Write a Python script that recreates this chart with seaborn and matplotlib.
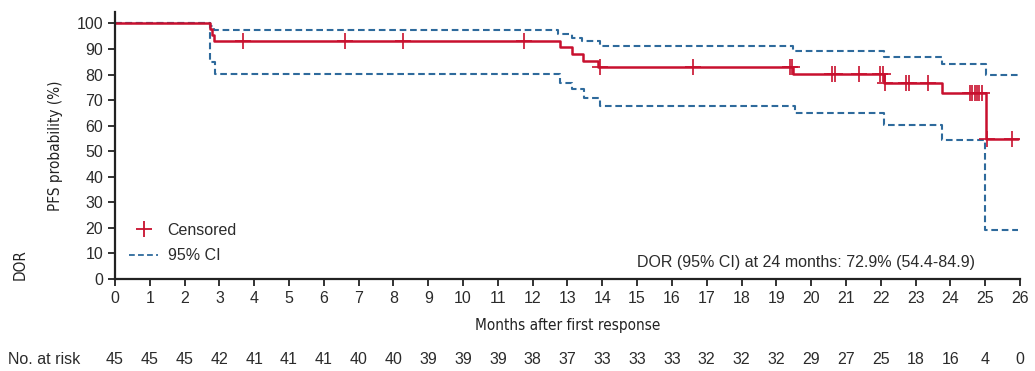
"""Kaplan-Meier style DOR curve with 95% CI and number-at-risk row."""

import numpy as np
import matplotlib
matplotlib.use("Agg")
import matplotlib.pyplot as plt
import matplotlib.font_manager as fm
from matplotlib.lines import Line2D
import seaborn as sns

# KM estimate (steps-post)
km_t = [0, 2.73, 2.78, 2.85, 12.79, 13.12, 13.44, 13.88, 19.49, 22.10, 23.75, 25.03, 25.95]
km_s = [100, 97.8, 95.6, 93.3, 90.6, 88.1, 85.5, 83.0, 80.1, 76.9, 72.7, 54.6, 54.6]

# 95% CI bounds
up_t = [0, 2.73, 2.85, 12.73, 13.12, 13.41, 13.92, 19.49, 22.08, 23.75, 25.03, 25.95]
up_s = [100, 99.0, 97.3, 95.9, 94.5, 93.1, 91.1, 89.2, 87.0, 84.1, 79.8, 79.8]
lo_t = [0, 2.73, 2.87, 12.79, 13.12, 13.48, 13.92, 19.54, 22.08, 23.75, 25.0, 25.95]
lo_s = [100, 84.9, 80.4, 76.8, 74.2, 71.0, 67.7, 65.0, 60.4, 54.3, 19.1, 19.1]

# censoring times
censor_t = [3.68, 6.61, 8.28, 11.75, 13.92, 16.6, 19.38, 19.45, 20.6, 20.68,
            21.37, 21.97, 22.05, 22.12, 22.72, 22.82, 23.35, 24.55, 24.63,
            24.70, 24.76, 24.82, 24.90, 25.05, 25.78]

months = list(range(0, 27))
at_risk = [45, 45, 45, 42, 41, 41, 41, 40, 40, 39, 39, 39, 38, 37, 33, 33,
           33, 32, 32, 32, 29, 27, 25, 18, 16, 4, 0]

RED = "#C8102E"
BLUE = "#2E6A9C"
TXT = "#2b2b2b"


def _available_fonts():
    return {f.name for f in fm.fontManager.ttflist}


sns.set_style("ticks")
plt.rcParams["font.family"] = ["Liberation Sans", "DejaVu Sans"]
avail = _available_fonts()
if "Liberation Sans Narrow" in avail:
    narrow = dict(family="Liberation Sans Narrow")
else:
    narrow = dict(family="DejaVu Sans", stretch="condensed")


def step_value(t, times, vals):
    idx = np.searchsorted(times, t, side="right") - 1
    return vals[idx]


fig = plt.figure(figsize=(10.35, 3.71), dpi=100)
ax = fig.add_axes([0.1111, 0.248, 0.8744, 0.7197])

sns.lineplot(x=up_t, y=up_s, ax=ax, drawstyle="steps-post", color=BLUE,
             linestyle=(0, (3.2, 1.8)), linewidth=1.5, estimator=None)
sns.lineplot(x=lo_t, y=lo_s, ax=ax, drawstyle="steps-post", color=BLUE,
             linestyle=(0, (3.2, 1.8)), linewidth=1.5, estimator=None)
sns.lineplot(x=km_t, y=km_s, ax=ax, drawstyle="steps-post", color=RED,
             linewidth=1.8, estimator=None)

censor_s = [step_value(t, km_t, km_s) for t in censor_t]
sns.scatterplot(x=censor_t, y=censor_s, ax=ax, marker="+", s=120,
                color=RED, linewidth=1.2, zorder=5)

ax.set_xlim(0, 26)
ax.set_ylim(0, 104.5)
ax.set_xticks(months)
ax.set_yticks(range(0, 101, 10))
ax.tick_params(axis="both", labelsize=11.5, labelcolor=TXT, length=5, width=1.3,
               color="#222222", direction="out")
for side in ("left", "bottom"):
    ax.spines[side].set_linewidth(1.6)
    ax.spines[side].set_color("#222222")
sns.despine(ax=ax)

ax.set_xlabel("Months after first response", fontsize=11, color="#222222",
              labelpad=9, **narrow)
ax.set_ylabel("PFS probability (%)", fontsize=11, color="#222222",
              labelpad=10, **narrow)

handles = [
    Line2D([], [], color=RED, marker="+", linestyle="none", markersize=12,
           markeredgewidth=1.3),
    Line2D([], [], color=BLUE, linestyle=(0, (3.2, 1.8)), linewidth=1.3),
]
ax.legend(handles, ["Censored", "95% CI"], loc="lower left",
          bbox_to_anchor=(0.0, 0.005), frameon=False, fontsize=11.5,
          handlelength=1.8, handletextpad=0.6, labelspacing=0.65,
          labelcolor=TXT)

ax.text(24.7, 6.6, "DOR (95% CI) at 24 months: 72.9% (54.4-84.9)",
        ha="right", va="center", fontsize=11.5, color=TXT)

fig.text(20 / 1035, 1 - 265 / 371, "DOR", rotation=90, ha="center",
         va="center", fontsize=11, color="#222222", **narrow)

# number at risk row
y_risk = 1 - 360 / 371
fig.text(8 / 1035, y_risk, "No. at risk", ha="left", va="center",
         fontsize=11.5, color=TXT)
for m, n in zip(months, at_risk):
    xf = fig.transFigure.inverted().transform(ax.transData.transform((m, 0)))[0]
    fig.text(xf, y_risk, str(n), ha="center", va="center", fontsize=11.5,
             color=TXT)

fig.savefig("out.png", dpi=100)
